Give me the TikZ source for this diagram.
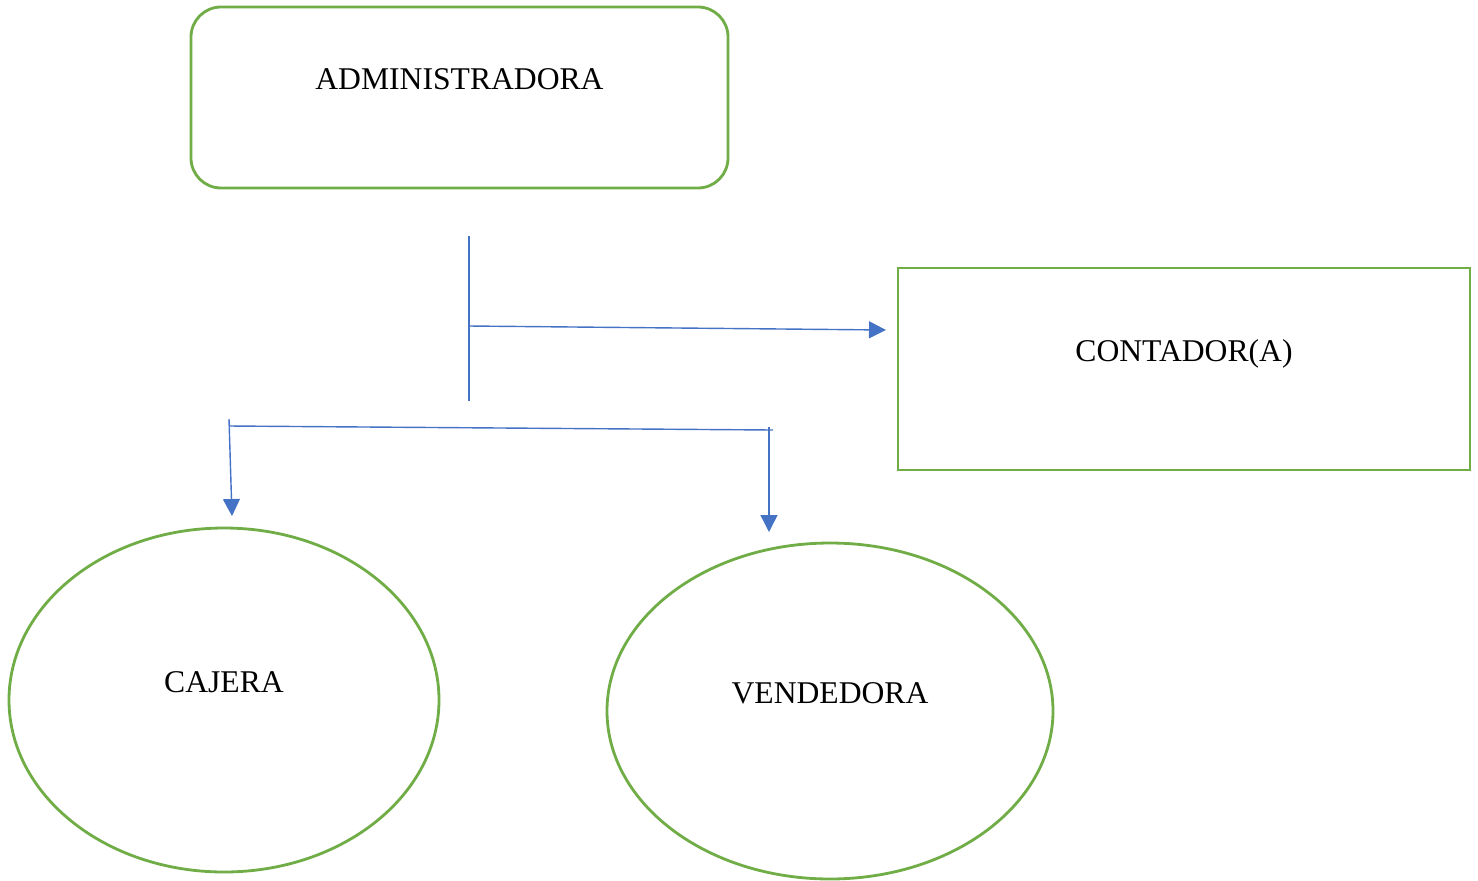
\documentclass[tikz,border=0pt]{standalone}
\usepackage{fontspec}
\setmainfont{Liberation Serif}
\usetikzlibrary{arrows.meta,shapes.geometric}
\definecolor{boxgreen}{RGB}{112,173,71}
\definecolor{linkblue}{RGB}{68,114,196}
\tikzset{
  greenbox/.style={draw=boxgreen, line width=1.6pt, inner sep=0pt},
  linkline/.style={draw=linkblue, line width=0.8pt},
  linkarrow/.style={linkline, -{Triangle[length=0.34cm, width=0.34cm]}},
  boxtext/.style={font=\fontsize{18}{22}\selectfont}
}
\begin{document}
\begin{tikzpicture}
\useasboundingbox (0,0) rectangle (29.56,-17.6);
\node[greenbox, rounded corners=0.6cm, minimum width=10.74cm, minimum height=3.62cm] (admin) at (9.19,-1.95) {};
\node[boxtext] (admintxt) at (9.19,-1.59) {ADMINISTRADORA};
\node[greenbox, minimum width=11.44cm, minimum height=4.04cm] (contador) at (23.68,-7.38) {};
\node[boxtext] (contadortxt) at (23.68,-7.08) {CONTADOR(A)};
\node[greenbox, ellipse, minimum width=8.6cm, minimum height=6.88cm] (cajera) at (4.48,-14.0) {};
\node[boxtext] (cajeratxt) at (4.48,-13.64) {CAJERA};
\node[greenbox, ellipse, minimum width=8.92cm, minimum height=6.72cm] (vendedora) at (16.6,-14.22) {};
\node[boxtext] (vendedoratxt) at (16.6,-13.86) {VENDEDORA};
\coordinate (vtop) at (9.38,-4.72);
\coordinate (vbot) at (9.38,-8.02);
\coordinate (vmid) at (9.38,-6.52);
\coordinate (toconta) at (17.72,-6.6);
\coordinate (hleft) at (4.58,-8.52);
\coordinate (hright) at (15.46,-8.6);
\coordinate (cajtop) at (4.58,-8.38);
\coordinate (tocaj) at (4.64,-10.32);
\coordinate (vendtop) at (15.38,-8.54);
\coordinate (tovend) at (15.38,-10.64);
\draw[linkline] (vtop) -- (vbot);
\draw[linkarrow] (vmid) -- (toconta);
\draw[linkline] (hleft) -- (hright);
\draw[linkarrow] (cajtop) -- (tocaj);
\draw[linkarrow] (vendtop) -- (tovend);
\end{tikzpicture}
\end{document}
